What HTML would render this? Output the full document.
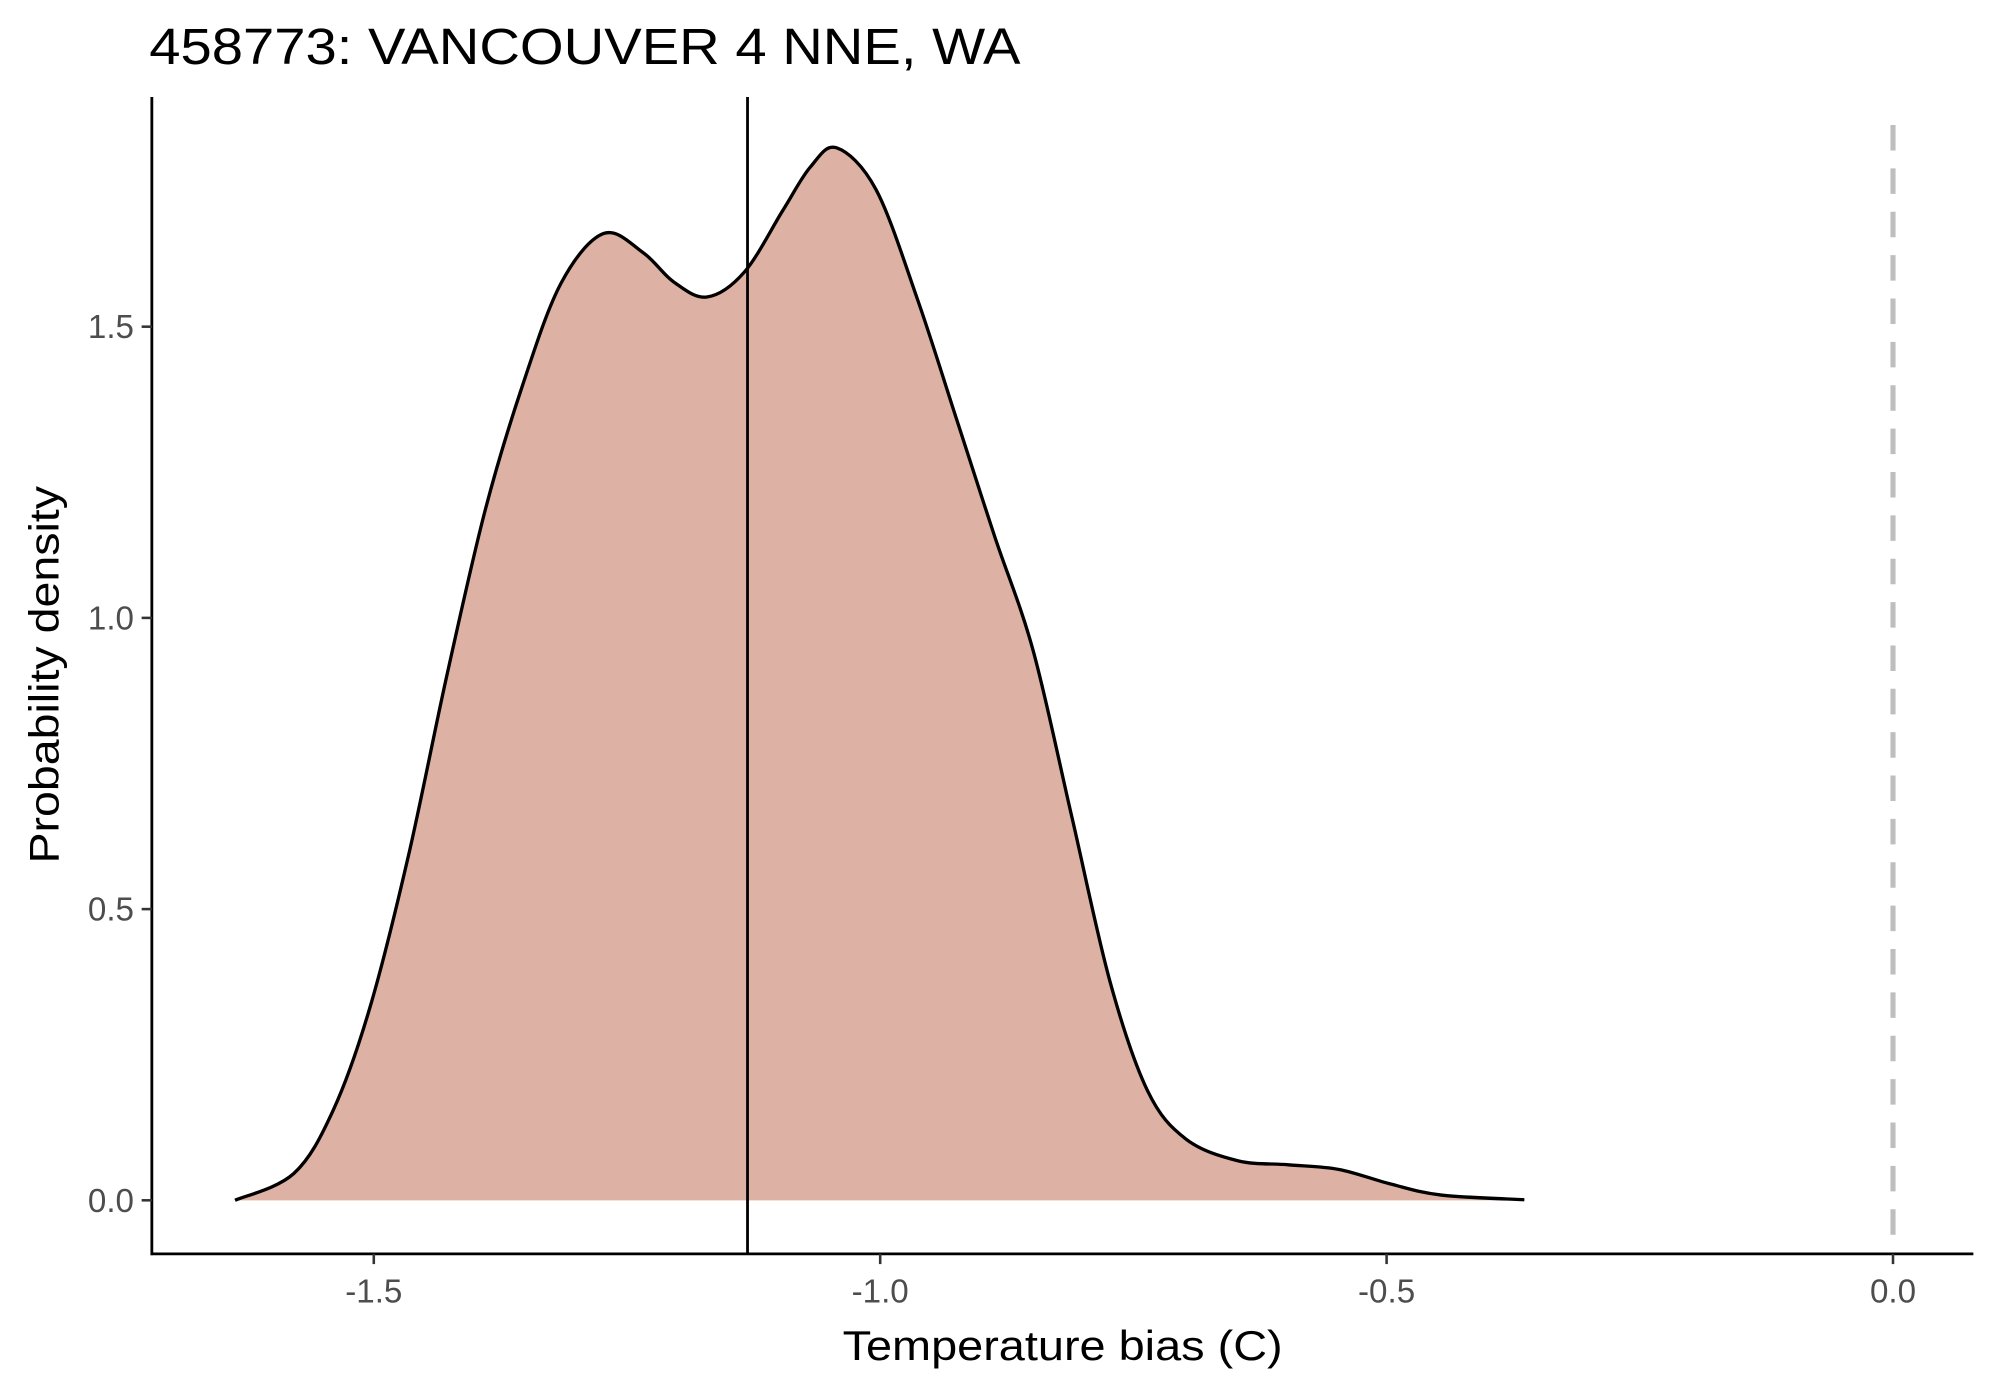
<!DOCTYPE html>
<html><head><meta charset="utf-8"><style>
html,body{margin:0;padding:0;background:#fff;}
svg{display:block;}
text{font-family:"Liberation Sans",Arial,sans-serif;}
</style></head><body>
<svg id="chart" width="1990" height="1384" viewBox="0 0 1560 1085" xmlns="http://www.w3.org/2000/svg">
<text x="117" y="50" font-size="40" fill="#000" textLength="683" lengthAdjust="spacingAndGlyphs">458773: VANCOUVER 4 NNE, WA</text>
<g id="plot"></g>
<text x="833" y="1066" font-size="33" text-anchor="middle" fill="#000" textLength="345" lengthAdjust="spacingAndGlyphs">Temperature bias (C)</text>
<text transform="translate(46,529) rotate(-90)" font-size="33" text-anchor="middle" fill="#000" textLength="296" lengthAdjust="spacingAndGlyphs">Probability density</text>
</svg>
<script>
const xs = [-1.637,-1.579,-1.54,-1.504,-1.466,-1.428,-1.39,-1.353,-1.315,-1.273,-1.234,-1.204,-1.171,-1.134,-1.096,-1.069,-1.043,-1.004,-0.963,-0.924,-0.887,-0.849,-0.811,-0.773,-0.736,-0.698,-0.647,-0.597,-0.547,-0.496,-0.446,-0.364];
const dens = [0.0,0.046,0.155,0.33,0.59,0.90,1.185,1.40,1.575,1.660,1.627,1.577,1.551,1.594,1.700,1.774,1.807,1.735,1.546,1.338,1.14,0.944,0.66,0.375,0.188,0.105,0.068,0.061,0.053,0.028,0.009,0.001];
const xTicks = [-1.5,-1.0,-0.5,0.0];
const xTickLabels = ["-1.5","-1.0","-0.5","0.0"];
const yTicks = [0,0.5,1.0,1.5];
const yTickLabels = ["0.0","0.5","1.0","1.5"];
const meanLine = [-1.131];
const refLine = [0];

const X = v => 293 + (v + 1.5) * 794;
const Y = v => 941 - v * 456.6;
const NS = "http://www.w3.org/2000/svg";
const g = document.getElementById('plot');
function mk(tag, attrs){const e=document.createElementNS(NS,tag);for(const k in attrs)e.setAttribute(k,attrs[k]);g.appendChild(e);return e;}

const pts = xs.map((x,i)=>[X(x),Y(dens[i])]);
let d = `M${pts[0][0]},${pts[0][1]}`;
for(let i=0;i<pts.length-1;i++){
  const p0=pts[Math.max(i-1,0)],p1=pts[i],p2=pts[i+1],p3=pts[Math.min(i+2,pts.length-1)];
  const c1=[p1[0]+(p2[0]-p0[0])/6,p1[1]+(p2[1]-p0[1])/6];
  const c2=[p2[0]-(p3[0]-p1[0])/6,p2[1]-(p3[1]-p1[1])/6];
  d+=` C${c1[0]},${c1[1]} ${c2[0]},${c2[1]} ${p2[0]},${p2[1]}`;
}
const area = mk('path',{d:d+` L${pts[pts.length-1][0]},${Y(0)} L${pts[0][0]},${Y(0)} Z`,fill:'#ddb2a4',stroke:'none'});


const line = mk('path',{d:d,fill:'none',stroke:'#000','stroke-width':2.6,'stroke-linejoin':'round'});



refLine.forEach(v=>{
  const l=mk('line',{x1:X(v),x2:X(v),y1:98,y2:983,stroke:'#bebebe','stroke-width':4,'stroke-dasharray':'20 14'});
  
  
});
meanLine.forEach(v=>{
  const l=mk('line',{x1:X(v),x2:X(v),y1:76,y2:983,stroke:'#000','stroke-width':2.2});
  
  
});

const ya=mk('line',{x1:119,x2:119,y1:76,y2:984,stroke:'#000','stroke-width':2.2});


const xa=mk('line',{x1:118,x2:1547,y1:983,y2:983,stroke:'#000','stroke-width':2.2});



xTicks.forEach((v,i)=>{
  const t=mk('line',{x1:X(v),x2:X(v),y1:983,y2:991,stroke:'#333','stroke-width':2});
  
  
  const tx=mk('text',{x:X(v),y:1021,'font-size':26,'text-anchor':'middle',fill:'#4d4d4d'});
  tx.textContent=xTickLabels[i];
  
  
});
yTicks.forEach((v,i)=>{
  const t=mk('line',{x1:111,x2:119,y1:Y(v),y2:Y(v),stroke:'#333','stroke-width':2});
  
  
  const tx=mk('text',{x:105,y:Y(v)+9,'font-size':26,'text-anchor':'end',fill:'#4d4d4d'});
  tx.textContent=yTickLabels[i];
  
  
});
</script>
</body></html>
